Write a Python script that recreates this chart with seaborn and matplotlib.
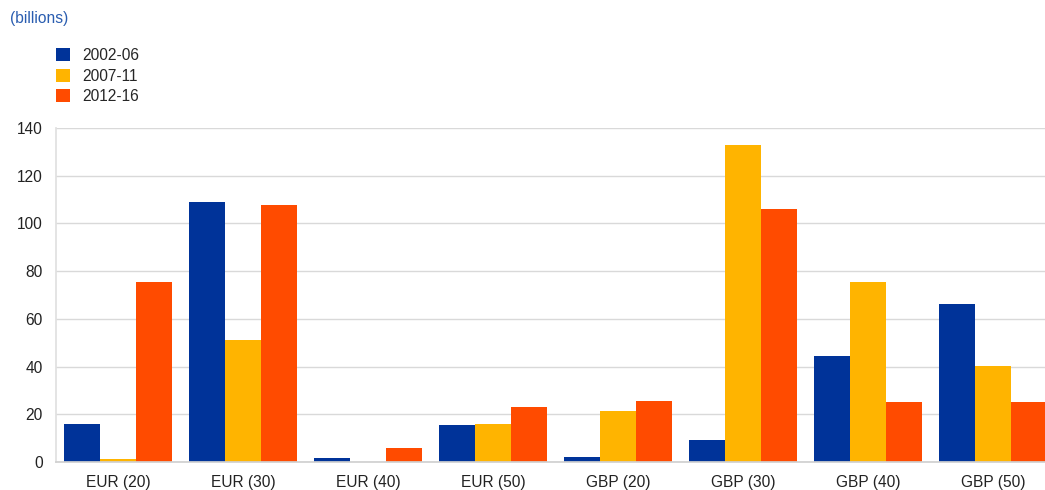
import matplotlib
matplotlib.use("Agg")
import matplotlib.pyplot as plt
from matplotlib.patches import Patch
import seaborn as sns
import pandas as pd

categories = ["EUR (20)", "EUR (30)", "EUR (40)", "EUR (50)",
              "GBP (20)", "GBP (30)", "GBP (40)", "GBP (50)"]
periods = ["2002-06", "2007-11", "2012-16"]
values_2002_06 = [16.0, 109.0, 1.7, 15.5, 2.0, 9.2, 44.4, 66.2]
values_2007_11 = [1.3, 51.2, 0.0, 16.0, 21.4, 132.9, 75.4, 40.2]
values_2012_16 = [75.5, 107.7, 5.9, 23.2, 25.6, 106.0, 25.2, 25.1]
colors = ["#003399", "#FFB400", "#FF4B00"]

rows = []
for period, vals in zip(periods, [values_2002_06, values_2007_11, values_2012_16]):
    for cat, v in zip(categories, vals):
        rows.append({"category": cat, "period": period, "value": v})
df = pd.DataFrame(rows)

sns.set_theme(style="white")
plt.rcParams["font.family"] = ["Liberation Sans", "DejaVu Sans"]

W, H = 1045, 490
fig = plt.figure(figsize=(W / 100, H / 100), dpi=100)
# plot area runs slightly past the right edge of the canvas
ax = fig.add_axes([55.5 / W, 1 - 462 / H, 1000 / W, (462 - 128) / H])

sns.barplot(data=df, x="category", y="value", hue="period", order=categories,
            hue_order=periods, palette=colors, width=0.864, saturation=1,
            edgecolor="none", linewidth=0, legend=False, ax=ax)

ax.set_ylim(0, 140)
ax.set_yticks(range(0, 141, 20))
ax.set_xlim(-0.5, len(categories) - 0.5)
ax.yaxis.grid(True, color="#d9d9d9", linewidth=1)
ax.set_axisbelow(True)
for side in ["top", "right"]:
    ax.spines[side].set_visible(False)
ax.spines["left"].set_color("#e0e0e0")
ax.spines["bottom"].set_color("#d0d0d0")
ax.tick_params(axis="both", length=0, labelsize=11.2, colors="#222222")
ax.tick_params(axis="y", pad=9)
ax.tick_params(axis="x", pad=9)
ax.set_xlabel("")
ax.set_ylabel("")

fig.text(10 / W, 1 - 18 / H, "(billions)", color="#2a5db0", fontsize=11.2,
         va="center", ha="left")

handles = [Patch(facecolor=c, edgecolor="none") for c in colors]
fig.legend(handles, periods, loc="upper left",
           bbox_to_anchor=(50 / W, 1 - 42 / H), frameon=False,
           fontsize=11.2, handlelength=0.9, handleheight=0.9,
           handletextpad=0.75, labelspacing=0.35, borderaxespad=0)

fig.savefig("out.png", dpi=100)
